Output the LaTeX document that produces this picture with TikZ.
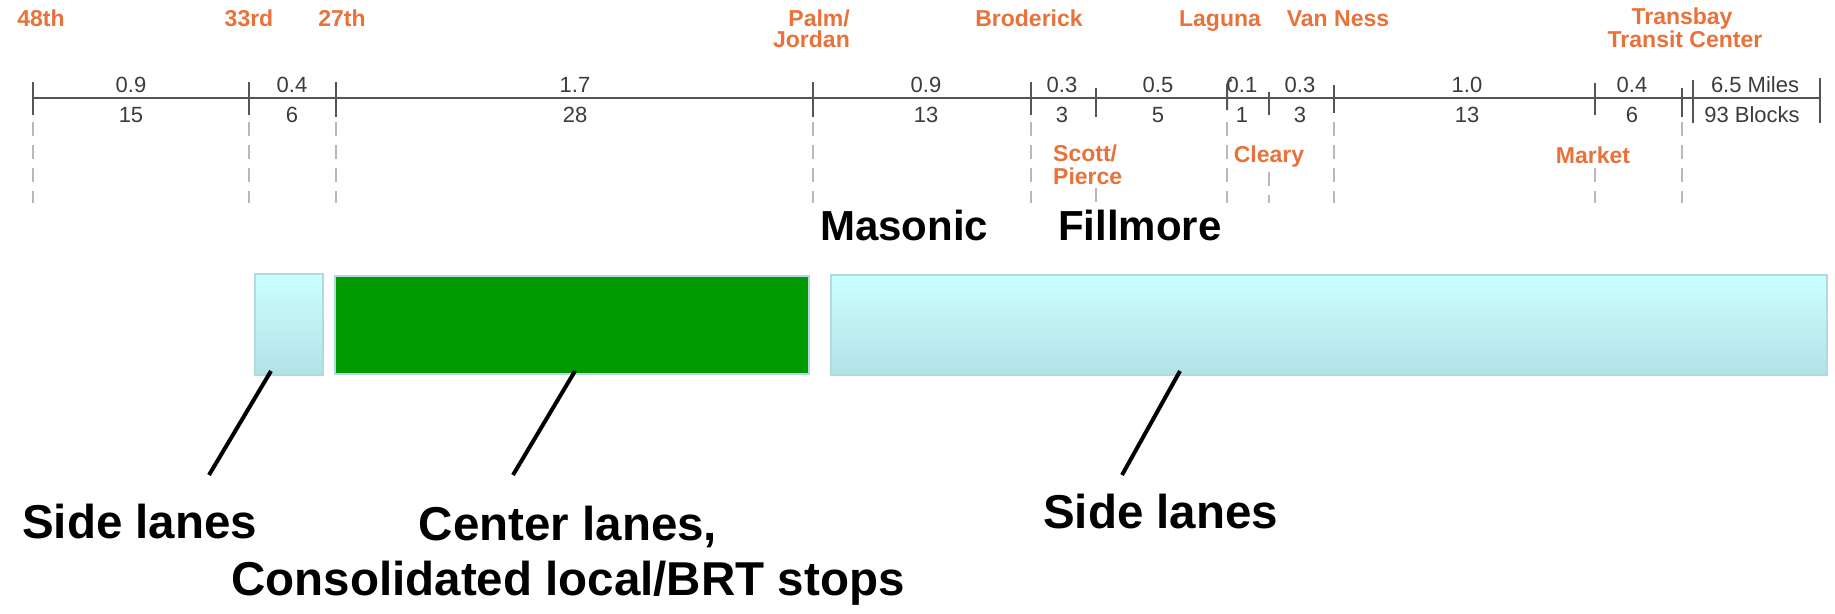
\documentclass[tikz,border=0pt]{standalone}
\usepackage{fontspec}
\setmainfont{Liberation Sans}
\definecolor{orng}{RGB}{232,114,58}
\definecolor{numgray}{RGB}{60,60,60}
\definecolor{axisgray}{RGB}{85,85,85}
\definecolor{cyantop}{RGB}{204,255,255}
\definecolor{cyanbot}{RGB}{178,226,230}
\definecolor{cyanedge}{RGB}{176,218,222}
\definecolor{lanegreen}{RGB}{0,153,0}
\begin{document}
\begin{tikzpicture}[x=1pt,y=-1pt,
  stop/.style={font=\fontsize{23}{21}\selectfont\bfseries, text=orng, inner sep=0pt, anchor=base},
  num/.style={font=\fontsize{22}{24}\selectfont, text=numgray, inner sep=0pt, anchor=base},
  axisline/.style={draw=axisgray, line width=2pt},
  dashv/.style={draw=black!28, line width=1.5pt, dash pattern=on 14pt off 9pt},
  street/.style={font=\fontsize{42}{48}\selectfont\bfseries, inner sep=0pt, anchor=base west},
  big/.style={font=\fontsize{47.5}{56}\selectfont\bfseries, inner sep=0pt, anchor=base},
  sidebox/.style={draw=cyanedge, line width=1.5pt, top color=cyantop, bottom color=cyanbot, anchor=north west, inner sep=0pt},
  centerbox/.style={draw=cyanedge, line width=1.5pt, fill=lanegreen, anchor=north west, inner sep=0pt},
  leader/.style={draw=black, line width=4pt}
]
\useasboundingbox[fill=white] (0,0) rectangle (1835,613);

% main distance line and ticks
\draw[axisline] (33,98) -- (1820,98);
\foreach \x/\a/\b in {33/82/115, 249/82/115, 336/82/117, 813/82/117, 1031/82/115,
  1096/88/117, 1269/92/115, 1334/85/113, 1595/83/115, 1682/88/117, 1693/80/123, 1820/78/123}
  \draw[axisline] (\x,\a) -- (\x,\b);
\draw[axisline] (1227,110) -- (1227,85) to[out=90,in=180] (1232,80);

% dashed extensions
\foreach \x/\a/\b in {33/122/203, 249/122/203, 336/122/203, 813/122/203, 1031/122/203,
  1096/188/203, 1227/122/203, 1269/172/203, 1334/122/203, 1595/168/203, 1682/122/203}
  \draw[dashv] (\x,\a) -- (\x,\b);

% stop names
\node[stop] (s48) at (41,27) {48th};
\node[stop] (s33) at (249,27) {33rd};
\node[stop] (s27) at (342,27) {27th};
\node[stop, anchor=base east] (palm) at (850,27) {Palm/};
\node[stop, anchor=base east] (jordan) at (850,47) {Jordan};
\node[stop] (brod) at (1029,27) {Broderick};
\node[stop] (lag) at (1220,27) {Laguna};
\node[stop] (vn) at (1338,27) {Van Ness};
\node[stop] (tb1) at (1682,24) {Transbay};
\node[stop] (tb2) at (1685,47) {Transit Center};
\node[stop, anchor=base west] (scott) at (1053,161) {Scott/};
\node[stop, anchor=base west] (pierce) at (1053,184) {Pierce};
\node[stop] (cleary) at (1269,162) {Cleary};
\node[stop] (market) at (1593,163) {Market};

% distances (miles / blocks)
\foreach \x/\m/\b [count=\i] in {131/0.9/15, 292/0.4/6, 575/1.7/28, 926/0.9/13, 1062/0.3/3,
  1158/0.5/5, 1242/0.1/1, 1300/0.3/3, 1467/1.0/13, 1632/0.4/6}{
  \node[num] (m\i) at (\x,92) {\m};
  \node[num] (b\i) at (\x,122) {\b};
}
\node[num] (miles) at (1755,92) {6.5 Miles};
\node[num] (blocks) at (1752,122) {93 Blocks};

% streets
\node[street] (masonic) at (820,240) {Masonic};
\node[street] (fillmore) at (1058,240) {Fillmore};

% lane boxes
\node[sidebox, minimum width=68pt, minimum height=101pt] (laneA) at (254,273) {};
\node[centerbox, minimum width=474pt, minimum height=98pt] (laneB) at (334,275) {};
\node[sidebox, minimum width=996pt, minimum height=100pt] (laneC) at (830,274) {};

% labels
\node[big, anchor=base west] (sideL) at (22,538) {Side lanes};
\node[big] (center1) at (568,540) {Center lanes,};
\node[big] (center2) at (568,595) {Consolidated local/BRT stops};
\node[big, anchor=base west] (sideR) at (1043,528) {Side lanes};

% leaders
\coordinate (la) at (271,371); \coordinate (lb) at (209,475);
\coordinate (lc) at (575,371); \coordinate (ld) at (513,475);
\coordinate (le) at (1180,371); \coordinate (lf) at (1122,475);
\draw[leader] (la) -- (lb);
\draw[leader] (lc) -- (ld);
\draw[leader] (le) -- (lf);
\end{tikzpicture}
\end{document}
